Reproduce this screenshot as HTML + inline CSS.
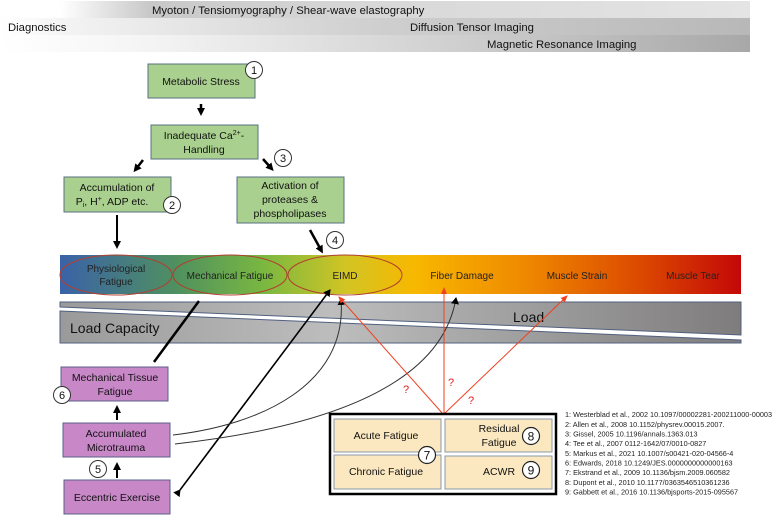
<!DOCTYPE html>
<html><head><meta charset="utf-8"><style>
html,body{margin:0;padding:0;background:#fff;}
svg{display:block;font-family:"Liberation Sans",sans-serif;}
</style></head><body>
<svg width="774" height="515" viewBox="0 0 774 515" xmlns="http://www.w3.org/2000/svg">
<defs>
<linearGradient id="b1" x1="0" x2="1"><stop offset="0" stop-color="#fff"/><stop offset="0.08" stop-color="#fff"/><stop offset="0.2" stop-color="#c8c8c8"/><stop offset="0.5" stop-color="#d8d8d8"/><stop offset="1" stop-color="#e4e4e4"/></linearGradient>
<linearGradient id="b2" x1="0" x2="1"><stop offset="0" stop-color="#fff"/><stop offset="0.1" stop-color="#f2f2f2"/><stop offset="0.5" stop-color="#cfcfcf"/><stop offset="1" stop-color="#b8b8b8"/></linearGradient>
<linearGradient id="b3" x1="0" x2="1"><stop offset="0" stop-color="#fff"/><stop offset="0.2" stop-color="#f4f4f4"/><stop offset="0.6" stop-color="#d0d0d0"/><stop offset="1" stop-color="#a8a8a8"/></linearGradient>
<linearGradient id="cb" gradientUnits="userSpaceOnUse" x1="60" x2="741" y1="0" y2="0">
<stop offset="0" stop-color="#3a62a8"/><stop offset="0.17" stop-color="#4f9060"/><stop offset="0.3" stop-color="#7ab840"/><stop offset="0.42" stop-color="#d2c424"/><stop offset="0.52" stop-color="#f8b800"/><stop offset="0.68" stop-color="#ef8a00"/><stop offset="0.85" stop-color="#dc4a00"/><stop offset="1" stop-color="#c40808"/></linearGradient>
<linearGradient id="lg" x1="0" x2="1"><stop offset="0" stop-color="#9a9a9a"/><stop offset="0.4" stop-color="#bdbdbd"/><stop offset="1" stop-color="#7e7c7c"/></linearGradient>
<marker id="ak" markerWidth="8" markerHeight="8" refX="6" refY="4" orient="auto" markerUnits="userSpaceOnUse"><path d="M0,0 L7,4 L0,8 z" fill="#000"/></marker>
<marker id="ar" markerWidth="8" markerHeight="8" refX="6" refY="4" orient="auto" markerUnits="userSpaceOnUse"><path d="M0,1 L7,4 L0,7 z" fill="#f04020"/></marker>
<marker id="akb" markerWidth="8" markerHeight="8" refX="4" refY="4" orient="auto" markerUnits="userSpaceOnUse"><path d="M0,0 L8,4 L0,8 z" fill="#000"/></marker>
</defs>
<rect x="0" y="1" width="750" height="17" fill="url(#b1)"/>
<rect x="0" y="18" width="750" height="17" fill="url(#b2)"/>
<rect x="0" y="35" width="750" height="17" fill="url(#b3)"/>
<g font-size="11.3" fill="#111">
<text x="8" y="31">Diagnostics</text>
<text x="152" y="14">Myoton / Tensiomyography / Shear-wave elastography</text>
<text x="410" y="31">Diffusion Tensor Imaging</text>
<text x="487" y="48">Magnetic Resonance Imaging</text>
</g>
<g fill="#a9d08e" stroke="#5a7080" stroke-width="1">
<rect x="148" y="64" width="107" height="34"/>
<rect x="151" y="125" width="107" height="34"/>
<rect x="64" y="177" width="107" height="35"/>
<rect x="237" y="177" width="107" height="46"/>
</g>
<g font-size="10.5" fill="#111" text-anchor="middle">
<text x="201" y="85">Metabolic Stress</text>
<text x="204" y="139">Inadequate Ca<tspan font-size="7" dy="-4">2+</tspan><tspan dy="4">-</tspan></text>
<text x="204" y="153">Handling</text>
<text x="117" y="191">Accumulation of</text>
<text x="112" y="205">P<tspan font-size="7" dy="2">i</tspan><tspan dy="-2">, H</tspan><tspan font-size="7" dy="-4">+</tspan><tspan dy="4">, ADP etc.</tspan></text>
<text x="290" y="189">Activation of</text>
<text x="290" y="203">proteases &amp;</text>
<text x="290" y="217">phospholipases</text>
</g>
<g stroke="#000" stroke-width="2.5" fill="none">
<line x1="201" y1="104" x2="201" y2="112" marker-end="url(#akb)"/>
<line x1="143" y1="160" x2="136" y2="169" marker-end="url(#akb)"/>
<line x1="263" y1="159" x2="271" y2="168" marker-end="url(#akb)"/>
<line x1="117" y1="215" x2="117" y2="245" stroke-width="2" marker-end="url(#akb)"/>
<line x1="310" y1="230" x2="321" y2="250" marker-end="url(#akb)"/>
</g>
<rect x="60" y="255" width="681" height="39" fill="url(#cb)"/>
<g fill="none" stroke="#b04030" stroke-width="1">
<ellipse cx="116" cy="275" rx="56" ry="20"/>
<ellipse cx="230" cy="275" rx="57" ry="20"/>
<ellipse cx="345" cy="275" rx="57" ry="20"/>
</g>
<g font-size="10" fill="#222" text-anchor="middle">
<text x="116" y="272">Physiological</text><text x="116" y="285">Fatigue</text>
<text x="230" y="279">Mechanical Fatigue</text>
<text x="345" y="279">EIMD</text>
<text x="462" y="279">Fiber Damage</text>
<text x="577" y="279">Muscle Strain</text>
<text x="693" y="279">Muscle Tear</text>
</g>
<polygon points="60,302 741,302 741,335 60,307" fill="url(#lg)" stroke="#506080" stroke-width="1"/>
<polygon points="60,311 741,340 741,343 60,343" fill="url(#lg)" stroke="#506080" stroke-width="1"/>
<text x="513" y="322" font-size="14" fill="#111">Load</text>
<text x="70" y="333" font-size="14" fill="#111">Load Capacity</text>
<g fill="#c888c8" stroke="#5a6088" stroke-width="1">
<rect x="61" y="367" width="107" height="34"/>
<rect x="63" y="423" width="107" height="34"/>
<rect x="64" y="480" width="106" height="34"/>
</g>
<g font-size="10.5" fill="#111" text-anchor="middle">
<text x="115" y="381">Mechanical Tissue</text><text x="115" y="395">Fatigue</text>
<text x="116" y="437">Accumulated</text><text x="116" y="451">Microtrauma</text>
<text x="117" y="501">Eccentric Exercise</text>
</g>
<g fill="#fff" stroke="#333" stroke-width="1">
<circle cx="254" cy="70" r="8.5"/><circle cx="283" cy="158" r="8.5"/><circle cx="172" cy="205" r="8.5"/><circle cx="335" cy="240" r="8.5"/>
<circle cx="62" cy="395" r="8.5"/><circle cx="98" cy="469" r="8.5"/>
</g>
<g font-size="11" fill="#111" text-anchor="middle">
<text x="254" y="74">1</text><text x="283" y="162">3</text><text x="172" y="209">2</text><text x="335" y="244">4</text>
<text x="62" y="399">6</text><text x="98" y="473">5</text>
</g>
<g stroke="#000" stroke-width="2" fill="none">
<line x1="117" y1="420" x2="117" y2="409" marker-end="url(#akb)"/>
<line x1="117" y1="478" x2="117" y2="466" marker-end="url(#akb)"/>
</g>
<line x1="154" y1="362" x2="199" y2="301" stroke="#000" stroke-width="2.5"/>
<line x1="180" y1="490" x2="330" y2="290" stroke="#000" stroke-width="1.6" marker-end="url(#ak)" marker-start="url(#ak)"/>
<path d="M173,435 C260,425 348,385 341,299" stroke="#333" stroke-width="1" fill="none" marker-end="url(#ak)"/>
<path d="M175,444 C300,430 440,395 456,298" stroke="#333" stroke-width="1" fill="none" marker-end="url(#ak)"/>
<g stroke="#f04020" stroke-width="1" fill="none">
<line x1="443" y1="414" x2="339" y2="297" marker-end="url(#ar)"/>
<line x1="444" y1="414" x2="444" y2="288" marker-end="url(#ar)"/>
<line x1="444" y1="414" x2="567" y2="296" marker-end="url(#ar)"/>
</g>
<g font-size="11" fill="#e02020" text-anchor="middle">
<text x="406" y="393">?</text><text x="451" y="386">?</text><text x="471" y="404">?</text>
</g>
<rect x="330" y="414" width="226" height="80" fill="#fff" stroke="#000" stroke-width="2.5"/>
<g fill="#fbe8c0" stroke="#8898a8" stroke-width="1">
<rect x="334" y="419" width="107" height="33"/>
<rect x="334" y="455" width="107" height="34"/>
<rect x="445" y="419" width="107" height="33"/>
<rect x="445" y="456" width="107" height="33"/>
</g>
<g font-size="10.5" fill="#111" text-anchor="middle">
<text x="386" y="439">Acute Fatigue</text>
<text x="386" y="475">Chronic Fatigue</text>
<text x="499" y="432">Residual</text><text x="499" y="446">Fatigue</text>
<text x="499" y="475">ACWR</text>
</g>
<g fill="#fff" stroke="#222" stroke-width="1.2">
<circle cx="427" cy="455" r="8.5"/><circle cx="531" cy="436" r="8.5"/><circle cx="531" cy="470" r="8.5"/>
</g>
<g font-size="12" fill="#111" text-anchor="middle">
<text x="427" y="459.5">7</text><text x="531" y="440.5">8</text><text x="531" y="474.5">9</text>
</g>
<g font-size="7.3" fill="#222">
<text x="565" y="417">1: Westerblad et al., 2002 10.1097/00002281-200211000-00003</text>
<text x="565" y="427">2: Allen et al., 2008 10.1152/physrev.00015.2007.</text>
<text x="565" y="436.5">3: Gissel, 2005 10.1196/annals.1363.013</text>
<text x="565" y="446">4: Tee et al., 2007 0112-1642/07/0010-0827</text>
<text x="565" y="456">5: Markus et al., 2021 10.1007/s00421-020-04566-4</text>
<text x="565" y="465.5">6: Edwards, 2018 10.1249/JES.0000000000000163</text>
<text x="565" y="475">7: Ekstrand et al., 2009 10.1136/bjsm.2009.060582</text>
<text x="565" y="485">8: Dupont et al., 2010 10.1177/0363546510361236</text>
<text x="565" y="494.5">9: Gabbett et al., 2016 10.1136/bjsports-2015-095567</text>
</g>
</svg>
</body></html>
